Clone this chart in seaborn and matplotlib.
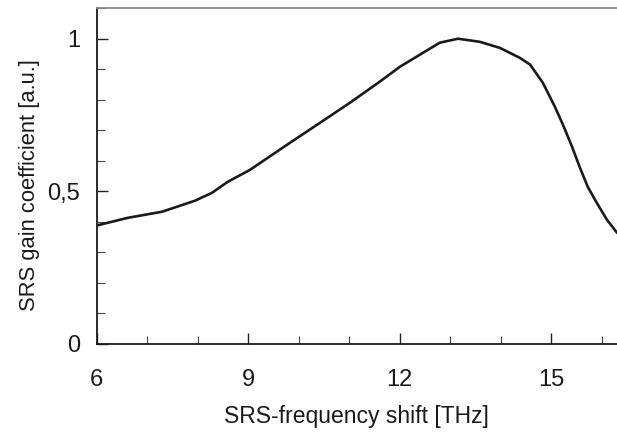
import matplotlib
matplotlib.use("Agg")
import matplotlib.pyplot as plt
import seaborn as sns
import pandas as pd
from matplotlib.ticker import MultipleLocator

freq = [6.0, 6.61, 7.29, 7.94, 8.28, 8.59, 9.03, 9.68, 10.36, 11.01, 11.60,
        12.0, 12.40, 12.79, 13.15, 13.58, 13.98, 14.38, 14.58, 14.83, 15.07,
        15.23, 15.41, 15.56, 15.72, 15.90, 16.10, 16.30]
gain = [0.388, 0.413, 0.433, 0.469, 0.495, 0.531, 0.570, 0.643, 0.718, 0.790,
        0.859, 0.908, 0.948, 0.987, 1.000, 0.990, 0.970, 0.937, 0.915, 0.856,
        0.777, 0.718, 0.646, 0.580, 0.515, 0.462, 0.407, 0.364]
xticks = [6, 9, 12, 15]
yticks = [0, 0.5, 1]
yticklabels = ["0", "0,5", "1"]

sns.set_theme(style="white")
plt.rcParams['font.family'] = ['Liberation Sans', 'DejaVu Sans']

fig = plt.figure(figsize=(6.17, 4.32), dpi=100)
ax = fig.add_axes([0.157, 0.204, 0.843, 0.777])
df = pd.DataFrame({"freq": freq, "gain": gain})
sns.lineplot(data=df, x="freq", y="gain", ax=ax, color="#1a1a1a", lw=1.9)

ax.set_xlim(6, 16.3)
ax.set_ylim(0, 1.10)
ax.set_xticks(xticks)
ax.xaxis.set_minor_locator(MultipleLocator(1))
ax.set_yticks(yticks)
ax.set_yticklabels(yticklabels)
ax.yaxis.set_minor_locator(MultipleLocator(0.1))
ax.tick_params(axis="both", which="both", bottom=True, left=True,
               top=False, right=False)
ax.tick_params(axis="both", which="major", direction="in", length=8, width=1,
               color="#222222", labelsize=17, labelcolor="#1a1a1a")
ax.tick_params(axis="both", which="minor", direction="in", length=6, width=0.8,
               color="#444444")
ax.tick_params(axis="x", which="major", pad=18)
ax.tick_params(axis="y", which="major", pad=12)

for s in ["left", "bottom"]:
    ax.spines[s].set_color("#1a1a1a")
    ax.spines[s].set_linewidth(1.3)
ax.spines["top"].set_color("#888888")
ax.spines["top"].set_linewidth(1.3)
ax.spines["right"].set_visible(False)

ax.set_xlabel("SRS-frequency shift [THz]", fontsize=16.5, labelpad=10,
              color="#1a1a1a")
ax.set_ylabel("SRS gain coefficient [a.u.]", fontsize=15.8, color="#1a1a1a")
ax.yaxis.set_label_coords(-0.11, 0.473)

fig.savefig("out.png", dpi=100)
